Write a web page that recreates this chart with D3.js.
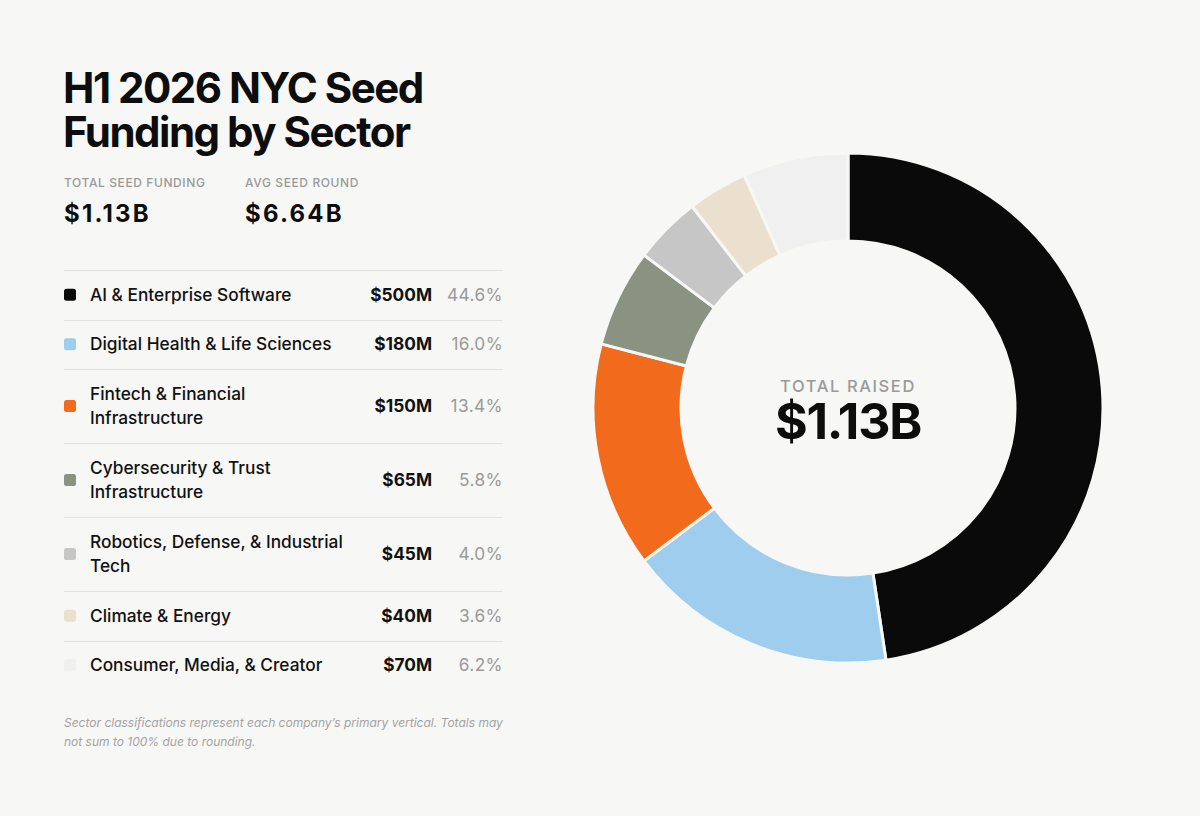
<!DOCTYPE html>
<html>
<head>
<meta charset="utf-8">
<script src="https://cdn.jsdelivr.net/npm/d3@7"></script>
<style>
  html, body { margin: 0; padding: 0; background: #f7f7f5; }
  svg { display: block; font-family: Inter, "Noto Sans", sans-serif; }
</style>
</head>
<body>
<div id="chart"></div>
<script>
// data
var sectors = [
  'AI & Enterprise Software',
  'Digital Health & Life Sciences',
  'Fintech & Financial\nInfrastructure',
  'Cybersecurity & Trust\nInfrastructure',
  'Robotics, Defense, & Industrial\nTech',
  'Climate & Energy',
  'Consumer, Media, & Creator'
];
var amounts = [500, 180, 150, 65, 45, 40, 70];
var amountLabels = ['$500M', '$180M', '$150M', '$65M', '$45M', '$40M', '$70M'];
var shareLabels = ['44.6%', '16.0%', '13.4%', '5.8%', '4.0%', '3.6%', '6.2%'];
var colors = ['#0a0a0a', '#9fcdee', '#f26b1d', '#8a9282', '#c6c6c6', '#ebe0cd', '#f0f0f0'];

var titleLines = ['H1 2026 NYC Seed', 'Funding by Sector'];
var stats = [
  { label: 'TOTAL SEED FUNDING', value: '$1.13B' },
  { label: 'AVG SEED ROUND', value: '$6.64B' }
];
var centerLabel = 'TOTAL RAISED';
var centerValue = '$1.13B';
var footnote = [
  'Sector classifications represent each company\u2019s primary vertical. Totals may',
  'not sum to 100% due to rounding.'
];

var width = 1200, height = 816;
var bg = '#f7f7f5';

var svg = d3.select('#chart').append('svg')
  .attr('width', width)
  .attr('height', height);

svg.append('rect').attr('width', width).attr('height', height).attr('fill', bg);

// title
svg.append('g').selectAll('text')
  .data(titleLines)
  .enter().append('text')
  .attr('x', 63)
  .attr('y', function (d, i) { return 103 + i * 44; })
  .attr('font-size', 42)
  .attr('font-weight', 700)
  .attr('letter-spacing', -1.5)
  .attr('fill', '#0d0d0d')
  .text(function (d) { return d; });

// stats
var stat = svg.append('g').selectAll('g')
  .data(stats)
  .enter().append('g')
  .attr('transform', function (d, i) { return 'translate(' + (64 + i * 181) + ',0)'; });

stat.append('text')
  .attr('y', 187)
  .attr('font-size', 12)
  .attr('font-weight', 500)
  .attr('letter-spacing', 0.6)
  .attr('fill', '#9a9a9a')
  .text(function (d) { return d.label; });

stat.append('text')
  .attr('y', 222)
  .attr('font-size', 24)
  .attr('font-weight', 700)
  .attr('letter-spacing', 2.2)
  .attr('fill', '#0d0d0d')
  .text(function (d) { return d.value; });

// legend table
var rowTop = [];
var y = 270;
sectors.forEach(function (s) {
  rowTop.push(y);
  y += s.indexOf('\n') >= 0 ? 74 : 49.5;
});

var legend = svg.append('g');

legend.selectAll('line')
  .data(d3.range(sectors.length))
  .enter().append('line')
  .attr('x1', 64).attr('x2', 503)
  .attr('y1', function (i) { return Math.round(rowTop[i]) + 0.5; })
  .attr('y2', function (i) { return Math.round(rowTop[i]) + 0.5; })
  .attr('stroke', '#e3e3e0')
  .attr('stroke-width', 1);

var row = legend.selectAll('g.row')
  .data(sectors)
  .enter().append('g')
  .attr('class', 'row')
  .attr('transform', function (d, i) {
    var h = d.indexOf('\n') >= 0 ? 74 : 49.5;
    return 'translate(0,' + (rowTop[i] + h / 2) + ')';
  });

row.append('rect')
  .attr('x', 64).attr('y', -6)
  .attr('width', 12).attr('height', 12)
  .attr('rx', 2.5)
  .attr('fill', function (d, i) { return colors[i]; });

row.append('text')
  .attr('x', 90)
  .attr('font-size', 17.3)
  .attr('font-weight', 500)
  .attr('fill', '#111')
  .each(function (d) {
    var lines = d.split('\n');
    var t = d3.select(this);
    lines.forEach(function (l, j) {
      t.append('tspan')
        .attr('x', 90)
        .attr('y', 6 + (j - (lines.length - 1) / 2) * 24)
        .text(l);
    });
  });

row.append('text')
  .attr('x', 432)
  .attr('y', 6)
  .attr('text-anchor', 'end')
  .attr('font-size', 17.3)
  .attr('font-weight', 700)
  .attr('fill', '#111')
  .text(function (d, i) { return amountLabels[i]; });

row.append('text')
  .attr('x', 503)
  .attr('y', 6)
  .attr('text-anchor', 'end')
  .attr('font-size', 17.3)
  .attr('font-weight', 400)
  .attr('letter-spacing', 0.4)
  .attr('fill', '#9a9a9a')
  .text(function (d, i) { return shareLabels[i]; });

// footnote
svg.append('g').selectAll('text')
  .data(footnote)
  .enter().append('text')
  .attr('x', 64)
  .attr('y', function (d, i) { return 727 + i * 19; })
  .attr('font-size', 12)
  .attr('font-style', 'italic')
  .attr('fill', '#a3a3a3')
  .text(function (d) { return d; });

// donut
var cx = 848, cy = 408;
var outerR = 255, innerR = 167;

var pie = d3.pie().sort(null).value(function (d) { return d; });
var arc = d3.arc().innerRadius(innerR).outerRadius(outerR);

var donut = svg.append('g').attr('transform', 'translate(' + cx + ',' + cy + ')');

donut.selectAll('path')
  .data(pie(amounts))
  .enter().append('path')
  .attr('d', arc)
  .attr('fill', function (d, i) { return colors[i]; })
  .attr('stroke', bg)
  .attr('stroke-width', 3);

donut.append('text')
  .attr('y', -16)
  .attr('text-anchor', 'middle')
  .attr('font-size', 16.5)
  .attr('font-weight', 500)
  .attr('letter-spacing', 1.6)
  .attr('fill', '#9a9a9a')
  .text(centerLabel);

donut.append('text')
  .attr('y', 31)
  .attr('text-anchor', 'middle')
  .attr('font-size', 50)
  .attr('font-weight', 700)
  .attr('letter-spacing', -1.2)
  .attr('fill', '#0d0d0d')
  .text(centerValue);
</script>
</body>
</html>
